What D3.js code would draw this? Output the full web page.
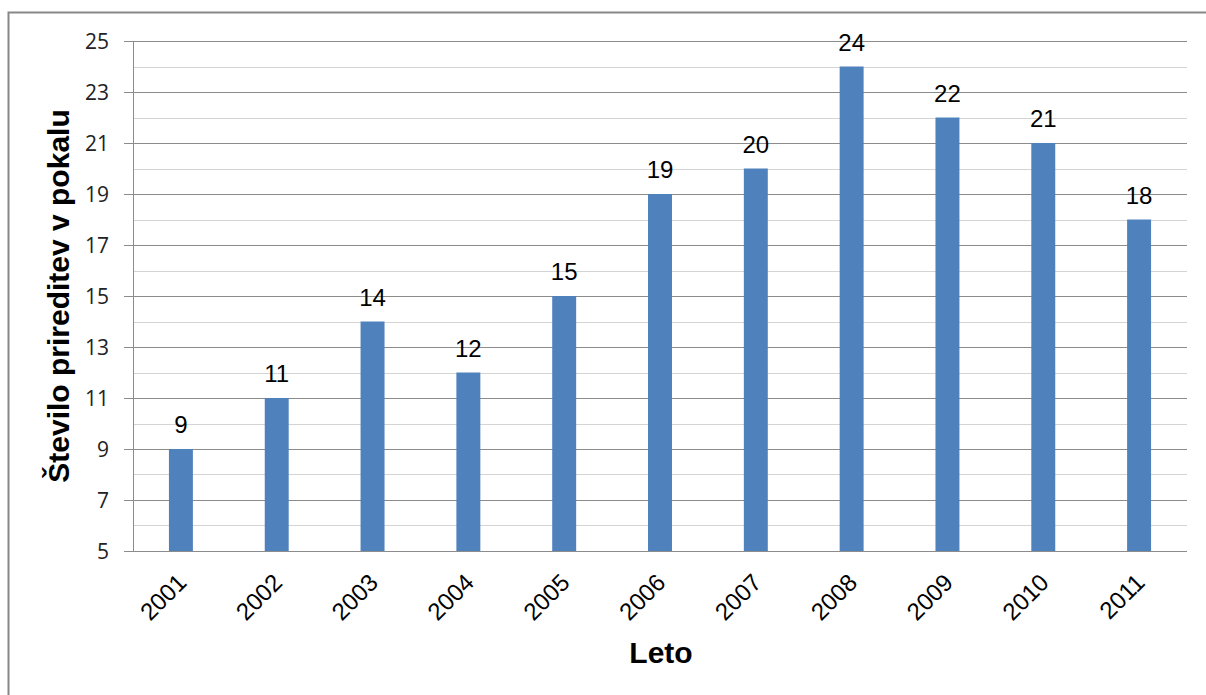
<!DOCTYPE html>
<html>
<head>
<meta charset="utf-8">
<script src="https://cdn.jsdelivr.net/npm/d3@7"></script>
<style>
  body { margin: 0; background: #fff; }
  svg text { font-family: "Liberation Sans", Arial, sans-serif; }
</style>
</head>
<body>
<div id="chart"></div>
<script>
const width = 1206, height = 695;

const years = ["2001", "2002", "2003", "2004", "2005", "2006", "2007", "2008", "2009", "2010", "2011"];
const events = [9, 11, 14, 12, 15, 19, 20, 24, 22, 21, 18];
const majorTicks = [5, 7, 9, 11, 13, 15, 17, 19, 21, 23, 25];
const minorTicks = [6, 8, 10, 12, 14, 16, 18, 20, 22, 24];

const svg = d3.select("#chart").append("svg")
  .attr("width", width)
  .attr("height", height);

// outer chart frame
svg.append("rect")
  .attr("x", 8.5).attr("y", 12.5)
  .attr("width", width + 10).attr("height", height + 10)
  .attr("fill", "none")
  .attr("stroke", "#888")
  .attr("stroke-width", 2);

const plotLeft = 133, plotRight = 1187, plotTop = 41, plotBottom = 551;

const x = d3.scaleBand().domain(years).range([plotLeft, plotRight])
  .paddingInner(0.75).paddingOuter(0.375);
const y = d3.scaleLinear().domain([5, 25]).range([plotBottom, plotTop]);

// minor grid
svg.append("g").selectAll("line")
  .data(minorTicks)
  .join("line")
  .attr("x1", plotLeft).attr("x2", plotRight)
  .attr("y1", d => Math.round(y(d)) + 0.5).attr("y2", d => Math.round(y(d)) + 0.5)
  .attr("stroke", "#d4d4d4");

// major grid + ticks
svg.append("g").selectAll("line")
  .data(majorTicks)
  .join("line")
  .attr("x1", plotLeft - 9).attr("x2", plotRight)
  .attr("y1", d => Math.round(y(d)) + 0.5).attr("y2", d => Math.round(y(d)) + 0.5)
  .attr("stroke", "#8c8c8c");

svg.append("line")
  .attr("x1", plotLeft + 0.5).attr("x2", plotLeft + 0.5)
  .attr("y1", plotTop).attr("y2", plotBottom)
  .attr("stroke", "#8c8c8c");

svg.append("g").selectAll("text")
  .data(majorTicks)
  .join("text")
  .attr("x", 109)
  .attr("y", d => y(d))
  .attr("dy", "0.36em")
  .attr("text-anchor", "end")
  .attr("font-size", "21px")
  .attr("fill", "#222")
  .style("font-family", "'Open Sans', 'Liberation Sans', sans-serif")
  .text(d => d);

// bars
svg.append("g").selectAll("rect")
  .data(years)
  .join("rect")
  .attr("x", d => x(d))
  .attr("y", (d, i) => y(events[i]))
  .attr("width", x.bandwidth())
  .attr("height", (d, i) => y(5) - y(events[i]))
  .attr("fill", "#4f81bd");

// value labels
svg.append("g").selectAll("text")
  .data(years)
  .join("text")
  .attr("x", d => x(d) + x.bandwidth() / 2)
  .attr("y", (d, i) => y(events[i]) - 16)
  .attr("text-anchor", "middle")
  .attr("font-size", "24px")
  .attr("fill", "#000")
  .text((d, i) => events[i]);

// x labels
svg.append("g").selectAll("text")
  .data(years)
  .join("text")
  .attr("transform", d => `translate(${x(d) + x.bandwidth() / 2 + 7},${plotBottom + 33}) rotate(-45)`)
  .attr("text-anchor", "end")
  .attr("font-size", "24px")
  .attr("fill", "#000")
  .text(d => d);

// axis titles
svg.append("text")
  .attr("x", 661).attr("y", 663)
  .attr("text-anchor", "middle")
  .attr("font-size", "30px")
  .attr("font-weight", "bold")
  .text("Leto");

svg.append("text")
  .attr("transform", `translate(69,${(plotTop + plotBottom) / 2}) rotate(-90)`)
  .attr("text-anchor", "middle")
  .attr("font-size", "30px")
  .attr("font-weight", "bold")
  .text("Število prireditev v pokalu");
</script>
</body>
</html>
